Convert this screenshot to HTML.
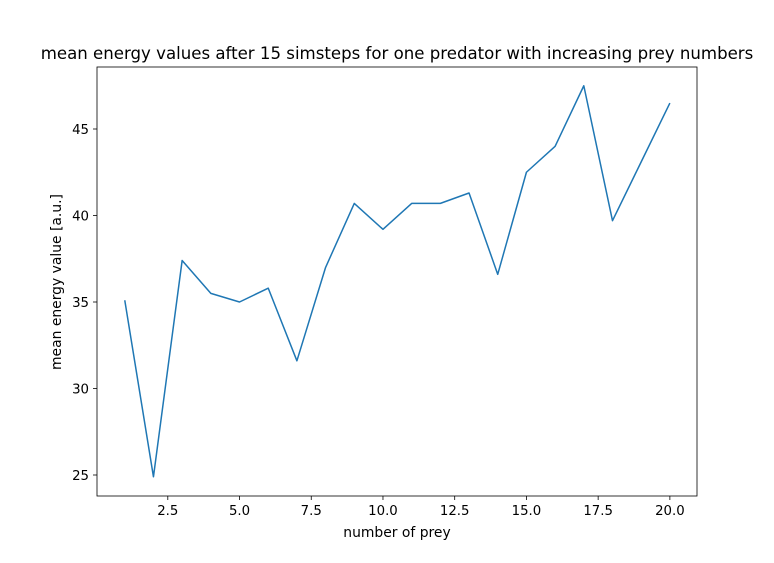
<!DOCTYPE html>
<html><head><meta charset="utf-8"><style>
html,body{margin:0;padding:0;background:#fff;}
svg text{font-family:"DejaVu Sans","Liberation Sans",sans-serif;fill:#000;}
</style></head><body>
<svg id="chart" width="774" height="558" viewBox="0 0 774 558" xmlns="http://www.w3.org/2000/svg">
<rect width="774" height="558" fill="#fff"/>
<text x="397" y="59" font-size="16.6" text-anchor="middle">mean energy values after 15 simsteps for one predator with increasing prey numbers</text>
<g id="xticks"></g>
<g id="yticks"></g>
<path id="line" fill="none" stroke="#1f77b4" stroke-width="1.5" stroke-linejoin="round"/>
<rect x="97" y="67" width="600" height="429" fill="none" stroke="#000" stroke-width="0.8"/>
<text x="397" y="537" font-size="13.9" text-anchor="middle">number of prey</text>
<text transform="translate(61,282) rotate(-90)" font-size="13.9" text-anchor="middle">mean energy value [a.u.]</text>
</svg>
<script>
const preyCounts=[1,2,3,4,5,6,7,8,9,10,11,12,13,14,15,16,17,18,19,20];
const energyValues=[35.1,24.9,37.4,35.5,35.0,35.8,31.6,37.0,40.7,39.2,40.7,40.7,41.3,36.6,42.5,44.0,47.5,39.7,43.1,46.5];
const xTickValues=[2.5,5.0,7.5,10.0,12.5,15.0,17.5,20.0];
const yTickValues=[25,30,35,40,45];
const NS="http://www.w3.org/2000/svg";
function xs(v){return 167.8+(v-2.5)*28.69;}
function ys(v){return 475-(v-25)*17.3;}
const xg=document.getElementById('xticks'),yg=document.getElementById('yticks');
xTickValues.forEach(v=>{
 const l=document.createElementNS(NS,'line');
 l.setAttribute('x1',xs(v));l.setAttribute('x2',xs(v));l.setAttribute('y1',496);l.setAttribute('y2',500);l.setAttribute('stroke','#000');l.setAttribute('stroke-width','0.8');
 
 
 xg.appendChild(l);
 const t=document.createElementNS(NS,'text');
 t.setAttribute('x',xs(v));t.setAttribute('y',515);t.setAttribute('font-size','13.3');t.setAttribute('text-anchor','middle');
 t.textContent=v.toFixed(1);
 
 
 xg.appendChild(t);
});
yTickValues.forEach(v=>{
 const l=document.createElementNS(NS,'line');
 l.setAttribute('x1',93);l.setAttribute('x2',97);l.setAttribute('y1',ys(v));l.setAttribute('y2',ys(v));l.setAttribute('stroke','#000');l.setAttribute('stroke-width','0.8');
 
 
 yg.appendChild(l);
 const t=document.createElementNS(NS,'text');
 t.setAttribute('x',89);t.setAttribute('y',ys(v)+5);t.setAttribute('font-size','13.3');t.setAttribute('text-anchor','end');
 t.textContent=v;
 
 
 yg.appendChild(t);
});
document.getElementById('line').setAttribute('d',preyCounts.map((x,i)=>(i?'L':'M')+xs(x)+','+ys(energyValues[i])).join(' '));
</script>
</body></html>
